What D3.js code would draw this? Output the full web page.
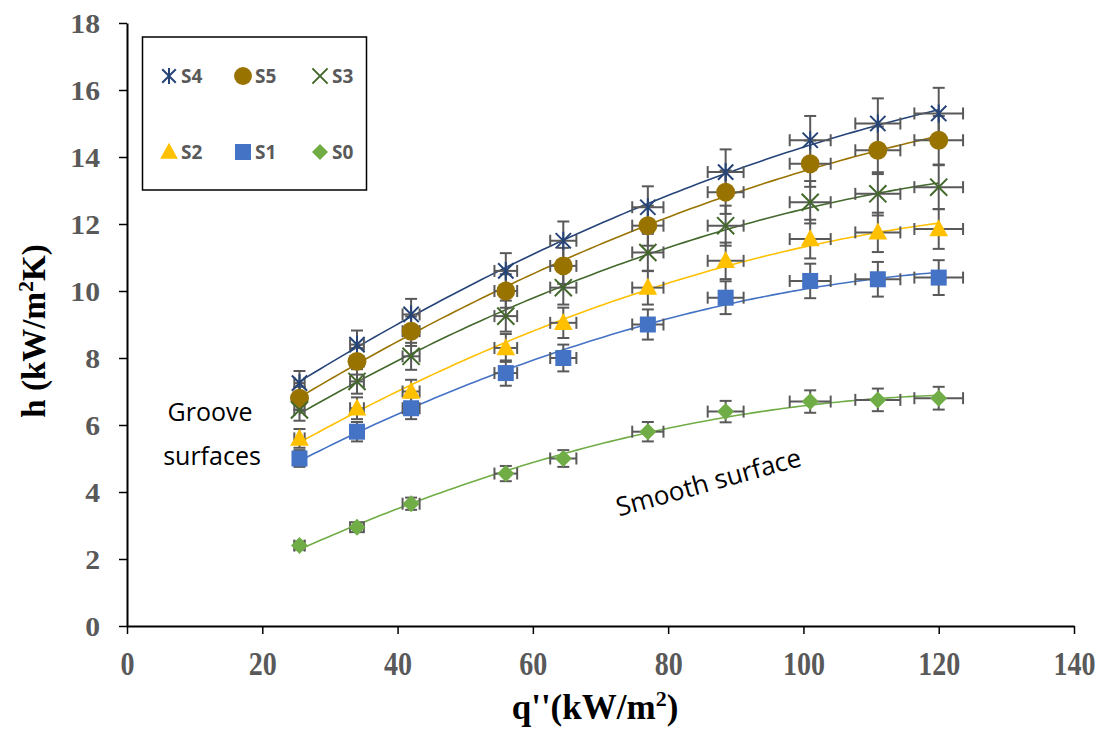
<!DOCTYPE html>
<html>
<head>
<meta charset="utf-8">
<script src="https://cdn.jsdelivr.net/npm/d3@7"></script>
<style>
  body { margin: 0; background: #fff; }
  svg { display: block; }
</style>
</head>
<body>
<div id="chart"></div>
<script>
// heat flux (kW/m2)
var qFlux = [25.5, 34, 42, 56, 64.5, 77, 88.5, 101, 111, 120];

// h values (kW/m2K) per surface
var hS4 = [7.25, 8.4, 9.3, 10.6, 11.5, 12.5, 13.55, 14.5, 15.0, 15.3];
var hS5 = [6.8, 7.9, 8.8, 10.0, 10.75, 11.95, 12.95, 13.8, 14.2, 14.5];
var hS3 = [6.45, 7.3, 8.05, 9.25, 10.1, 11.15, 11.95, 12.65, 12.9, 13.1];
var hS2 = [5.6, 6.5, 7.0, 8.3, 9.05, 10.1, 10.9, 11.55, 11.75, 11.85];
var hS1 = [5.0, 5.8, 6.5, 7.55, 8.0, 9.0, 9.8, 10.3, 10.35, 10.4];
var hS0 = [2.4, 2.95, 3.65, 4.55, 5.0, 5.8, 6.4, 6.7, 6.75, 6.8];

// relative error bars
var errY = 0.05;
var errX = 0.03;

var xTicks = [0, 20, 40, 60, 80, 100, 120, 140];
var yTicks = [0, 2, 4, 6, 8, 10, 12, 14, 16, 18];

var series = [
  {name: 'S4', h: hS4, color: '#264478', sym: 'star'},
  {name: 'S5', h: hS5, color: '#997300', sym: 'circle'},
  {name: 'S3', h: hS3, color: '#43682b', sym: 'cross'},
  {name: 'S2', h: hS2, color: '#ffc000', sym: 'triangle'},
  {name: 'S1', h: hS1, color: '#4472c4', sym: 'square'},
  {name: 'S0', h: hS0, color: '#70ad47', sym: 'diamond'}
];

var W = 1104, H = 731;
var svg = d3.select('#chart').append('svg')
  .attr('width', W).attr('height', H);

var x = d3.scaleLinear().domain([0, 140]).range([127, 1074]);
var y = d3.scaleLinear().domain([0, 18]).range([626, 23]);

var serif = '"Liberation Serif", "Times New Roman", serif';

// axes
var xAxis = svg.append('g')
  .attr('transform', 'translate(0,626)')
  .call(d3.axisBottom(x).tickValues(xTicks).tickSize(8).tickSizeOuter(0));
var yAxis = svg.append('g')
  .attr('transform', 'translate(127,0)')
  .call(d3.axisLeft(y).tickValues(yTicks).tickSize(8).tickSizeOuter(0));

[xAxis, yAxis].forEach(function(a) {
  a.select('.domain').attr('stroke', '#000').attr('stroke-width', 2);
  a.selectAll('.tick line').attr('stroke', '#000').attr('stroke-width', 1.5);
  a.selectAll('.tick text')
    .attr('fill', '#595959')
    .style('font-family', serif)
    .style('font-weight', 'bold');
});
// x labels: tall and narrow
xAxis.selectAll('.tick text')
  .style('font-size', '33px')
  .attr('y', 49).attr('dy', 0)
  .attr('transform', 'scale(0.85,1)');
// y labels
yAxis.selectAll('.tick text')
  .style('font-size', '27px')
  .attr('x', -24.5).attr('dy', '0.34em')
  .attr('transform', 'scale(1.1,1)');

// quadratic least squares trendline
function quadFit(xs, ys) {
  var n = xs.length, s = [0, 0, 0, 0, 0], t = [0, 0, 0];
  for (var i = 0; i < n; i++) {
    var p = 1;
    for (var k = 0; k < 5; k++) { s[k] += p; if (k < 3) t[k] += p * ys[i]; p *= xs[i]; }
  }
  var M = [[s[0], s[1], s[2], t[0]], [s[1], s[2], s[3], t[1]], [s[2], s[3], s[4], t[2]]];
  for (var c = 0; c < 3; c++) {
    for (var r = c + 1; r < 3; r++) {
      var f = M[r][c] / M[c][c];
      for (var j = c; j < 4; j++) M[r][j] -= f * M[c][j];
    }
  }
  var b = [0, 0, 0];
  for (var r2 = 2; r2 >= 0; r2--) {
    var v = M[r2][3];
    for (var j2 = r2 + 1; j2 < 3; j2++) v -= M[r2][j2] * b[j2];
    b[r2] = v / M[r2][r2];
  }
  return function(q) { return b[0] + b[1] * q + b[2] * q * q; };
}

var line = d3.line()
  .curve(d3.curveMonotoneX)
  .x(function(d) { return x(d[0]); })
  .y(function(d) { return y(d[1]); });

var qMin = d3.min(qFlux), qMax = d3.max(qFlux);
var qSteps = d3.range(qMin, qMax, 1).concat([qMax]);

// trendlines
series.forEach(function(s) {
  var fit = quadFit(qFlux, s.h);
  svg.append('path')
    .attr('d', line(qSteps.map(function(q) { return [q, fit(q)]; })))
    .attr('fill', 'none')
    .attr('stroke', s.color)
    .attr('stroke-width', 1.6);
});

// error bars
var eb = svg.append('g').attr('stroke', '#595959').attr('stroke-width', 2).attr('fill', 'none');
series.forEach(function(s) {
  qFlux.forEach(function(q, i) {
    var h = s.h[i];
    var cx = x(q), cy = y(h);
    var y1 = y(h * (1 - errY)), y2 = y(h * (1 + errY));
    var x1 = x(q * (1 - errX)), x2 = x(q * (1 + errX));
    eb.append('line').attr('x1', cx).attr('x2', cx).attr('y1', y1).attr('y2', y2);
    eb.append('line').attr('x1', cx - 6).attr('x2', cx + 6).attr('y1', y1).attr('y2', y1);
    eb.append('line').attr('x1', cx - 6).attr('x2', cx + 6).attr('y1', y2).attr('y2', y2);
    eb.append('line').attr('x1', x1).attr('x2', x2).attr('y1', cy).attr('y2', cy);
    eb.append('line').attr('x1', x1).attr('x2', x1).attr('y1', cy - 6).attr('y2', cy + 6);
    eb.append('line').attr('x1', x2).attr('x2', x2).attr('y1', cy - 6).attr('y2', cy + 6);
  });
});

// marker drawing
function drawMarker(g, sym, color, size) {
  var r = size / 2;
  if (sym === 'circle') {
    g.append('circle').attr('r', r * 1.05).attr('fill', color);
  } else if (sym === 'square') {
    g.append('rect').attr('x', -r).attr('y', -r).attr('width', size).attr('height', size).attr('fill', color);
  } else if (sym === 'triangle') {
    g.append('path').attr('d', 'M0,' + (-r * 1.15) + 'L' + (r * 1.1) + ',' + (r * 0.85) + 'L' + (-r * 1.1) + ',' + (r * 0.85) + 'Z').attr('fill', color);
  } else if (sym === 'diamond') {
    g.append('path').attr('d', 'M0,' + (-r) + 'L' + r + ',0L0,' + r + 'L' + (-r) + ',0Z').attr('fill', color);
  } else if (sym === 'cross') {
    var c = r * 0.95;
    g.append('path').attr('d', 'M' + (-c) + ',' + (-c) + 'L' + c + ',' + c + 'M' + c + ',' + (-c) + 'L' + (-c) + ',' + c)
      .attr('stroke', color).attr('stroke-width', 2).attr('fill', 'none');
  } else if (sym === 'star') {
    var c2 = r * 0.85;
    g.append('path').attr('d', 'M' + (-c2) + ',' + (-c2) + 'L' + c2 + ',' + c2 + 'M' + c2 + ',' + (-c2) + 'L' + (-c2) + ',' + c2 + 'M0,' + (-r) + 'L0,' + r)
      .attr('stroke', color).attr('stroke-width', 2).attr('fill', 'none');
  }
}

var markerSize = {star: 18, circle: 18, cross: 18, triangle: 17, square: 16, diamond: 17};

series.forEach(function(s) {
  var pts = svg.append('g').selectAll('g')
    .data(qFlux.map(function(q, i) { return [q, s.h[i]]; }))
    .enter().append('g')
    .attr('transform', function(d) { return 'translate(' + x(d[0]) + ',' + y(d[1]) + ')'; });
  pts.each(function() { drawMarker(d3.select(this), s.sym, s.color, markerSize[s.sym]); });
});

// legend
svg.append('rect')
  .attr('x', 142.5).attr('y', 37).attr('width', 224).attr('height', 153)
  .attr('fill', '#fff').attr('stroke', '#000').attr('stroke-width', 1.5);

var legCols = [169, 243, 320];
var legRows = [76, 152];
series.forEach(function(s, i) {
  var lx = legCols[i % 3], ly = legRows[Math.floor(i / 3)];
  var g = svg.append('g').attr('transform', 'translate(' + lx + ',' + ly + ')');
  drawMarker(g, s.sym, s.color, s.sym === 'circle' ? 17 : 16);
  svg.append('text')
    .attr('x', lx + 12).attr('y', ly)
    .attr('dy', '0.36em')
    .attr('fill', '#595959')
    .style('font-family', '"Open Sans", "Noto Sans", sans-serif')
    .style('font-weight', 'bold')
    .style('font-size', '19px')
    .text(s.name);
});

// axis titles
var yt = svg.append('text')
  .attr('transform', 'translate(45,331) rotate(-90)')
  .attr('text-anchor', 'middle')
  .style('font-family', serif)
  .style('font-weight', 'bold')
  .style('font-size', '33px')
  .attr('fill', '#000');
yt.append('tspan').text('h (kW/m');
yt.append('tspan').attr('dy', -12).style('font-size', '22px').text('2');
yt.append('tspan').attr('dy', 12).text('K)');

var xt = svg.append('text')
  .attr('x', 595).attr('y', 719)
  .attr('text-anchor', 'middle')
  .style('font-family', serif)
  .style('font-weight', 'bold')
  .style('font-size', '35px')
  .attr('fill', '#000');
xt.append('tspan').text("q''(kW/m");
xt.append('tspan').attr('dy', -13).style('font-size', '22px').text('2');
xt.append('tspan').attr('dy', 13).text(')');

// annotations
var noteFont = '"Open Sans", "Noto Sans", sans-serif';
svg.append('text').attr('x', 210).attr('y', 421).attr('text-anchor', 'middle')
  .style('font-family', noteFont).style('font-size', '25px').attr('fill', '#000').text('Groove');
svg.append('text').attr('x', 212).attr('y', 465).attr('text-anchor', 'middle')
  .style('font-family', noteFont).style('font-size', '25px').attr('fill', '#000').text('surfaces');
svg.append('text')
  .attr('transform', 'translate(711,491) rotate(-15.5)')
  .attr('text-anchor', 'middle')
  .style('font-family', noteFont).style('font-size', '26px').attr('fill', '#000')
  .text('Smooth surface');
</script>
</body>
</html>
